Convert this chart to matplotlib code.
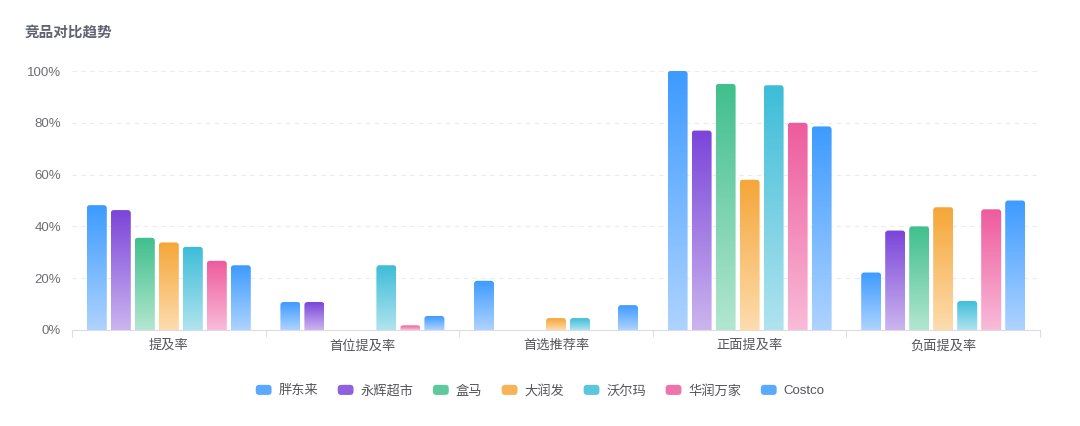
import matplotlib.pyplot as plt
import numpy as np
from matplotlib.path import Path
from matplotlib.patches import PathPatch, Patch, FancyBboxPatch
from matplotlib.legend_handler import HandlerPatch
from matplotlib.colors import to_rgb

plt.rcParams['font.family'] = ['Liberation Sans', 'Noto Sans CJK SC', 'DejaVu Sans']

# data (percent)
categories = ['提及率', '首位提及率', '首选推荐率', '正面提及率', '负面提及率']
brands = ['胖东来', '永辉超市', '盒马', '大润发', '沃尔玛', '华润万家', 'Costco']
pangdonglai = [48.2, 10.8, 19.0, 100.0, 22.2]
yonghui = [46.3, 10.8, 0, 77.0, 38.4]
hema = [35.6, 0, 0, 95.0, 40.0]
darunfa = [33.8, 0, 4.6, 58.0, 47.4]
walmart = [32.1, 25.0, 4.6, 94.5, 11.2]
huarun = [26.7, 1.8, 0, 80.0, 46.6]
costco = [25.0, 5.4, 9.6, 78.6, 50.0]
series = [pangdonglai, yonghui, hema, darunfa, walmart, huarun, costco]

# top colour, bottom colour
top_colors = ['#3d9bff', '#7b45d9', '#40bf8c', '#f5a638', '#3dbdd8', '#ee5b9d', '#3d9bff']
bottom_colors = ['#aed3ff', '#cbb5ef', '#b3e6d0', '#fddcae', '#b0e3ef', '#f9bbd8', '#aed3ff']

W, H = 1080, 426
fig = plt.figure(figsize=(W / 100, H / 100), dpi=100)
ax = fig.add_axes([72 / W, (H - 330) / H, 968 / W, 259 / H])

n = len(series)
step = 24 / 193.6
bw = 20 / 193.6
px_x = 968 / 5      # pixels per x unit
px_y = 259 / 100    # pixels per y unit
r = 3


def rounded_top(x0, x1, h):
    rx = r / px_x
    ry = min(r / px_y, h / 2)
    verts = [(x0, 0), (x0, h - ry), (x0, h), (x0 + rx, h), (x1 - rx, h),
             (x1, h), (x1, h - ry), (x1, 0), (x0, 0)]
    codes = [Path.MOVETO, Path.LINETO, Path.CURVE3, Path.CURVE3, Path.LINETO,
             Path.CURVE3, Path.CURVE3, Path.LINETO, Path.CLOSEPOLY]
    return Path(verts, codes)


x = np.arange(len(categories))
for i, vals in enumerate(series):
    c_top = np.array(to_rgb(top_colors[i]))
    c_bot = np.array(to_rgb(bottom_colors[i]))
    t = np.linspace(0, 1, 128)[:, None]
    grad = (c_top * (1 - t) + c_bot * t)[:, None, :]
    for j, v in enumerate(vals):
        if v <= 0:
            continue
        x0 = x[j] + (i - (n - 1) / 2) * step - bw / 2
        x1 = x0 + bw
        patch = PathPatch(rounded_top(x0, x1, v), facecolor='none', edgecolor='none')
        ax.add_patch(patch)
        im = ax.imshow(grad, extent=[x0, x1, 0, v], aspect='auto', origin='upper',
                       interpolation='bilinear', zorder=3)
        im.set_clip_path(patch)

ax.set_xlim(-0.5, len(categories) - 0.5)
ax.set_ylim(0, 100)

ax.set_yticks([0, 20, 40, 60, 80, 100])
ax.set_yticklabels([f'{v}%' for v in [0, 20, 40, 60, 80, 100]])
ax.yaxis.grid(True, linestyle=(0, (4, 4)), color='#ebebef', linewidth=0.8)
ax.set_axisbelow(True)
ax.tick_params(axis='y', length=0, pad=8, labelsize=9.5, labelcolor='#6e6e73')

ax.set_xticks(x)
ax.set_xticklabels(categories)
ax.tick_params(axis='x', length=0, pad=7, labelsize=9.5, labelcolor='#55555a')
ax.set_xticks(np.arange(len(categories) + 1) - 0.5, minor=True)
ax.tick_params(axis='x', which='minor', length=5, color='#dcdce2', width=0.8)

for s in ['left', 'top', 'right']:
    ax.spines[s].set_visible(False)
ax.spines['bottom'].set_color('#dcdce2')

fig.text(25 / W, 1 - 33 / H, '竞品对比趋势', fontsize=10.5, fontweight='bold',
         color='#5f6470', va='center', ha='left')


class RoundBox(HandlerPatch):
    def create_artists(self, legend, orig_handle, xdescent, ydescent, width, height,
                       fontsize, trans):
        p = FancyBboxPatch((-xdescent, -ydescent), width, height,
                           boxstyle='round,pad=0,rounding_size=2.5',
                           facecolor=orig_handle.get_facecolor(), edgecolor='none',
                           transform=trans)
        return [p]


mid_colors = [tuple((np.array(to_rgb(a)) + np.array(to_rgb(b))) / 2 * 0.5
                    + np.array(to_rgb(a)) * 0.5) for a, b in zip(top_colors, bottom_colors)]
handles = [Patch(facecolor=c, edgecolor='none', label=b) for c, b in zip(mid_colors, brands)]
fig.legend(handles=handles, loc='center', bbox_to_anchor=(0.5, 1 - 391 / H), ncol=7,
           frameon=False, fontsize=9.5, labelcolor='#55555a', handlelength=1.2,
           handleheight=0.8, handletextpad=0.5, columnspacing=1.5,
           handler_map={Patch: RoundBox()})

fig.savefig('out.png', dpi=100)
